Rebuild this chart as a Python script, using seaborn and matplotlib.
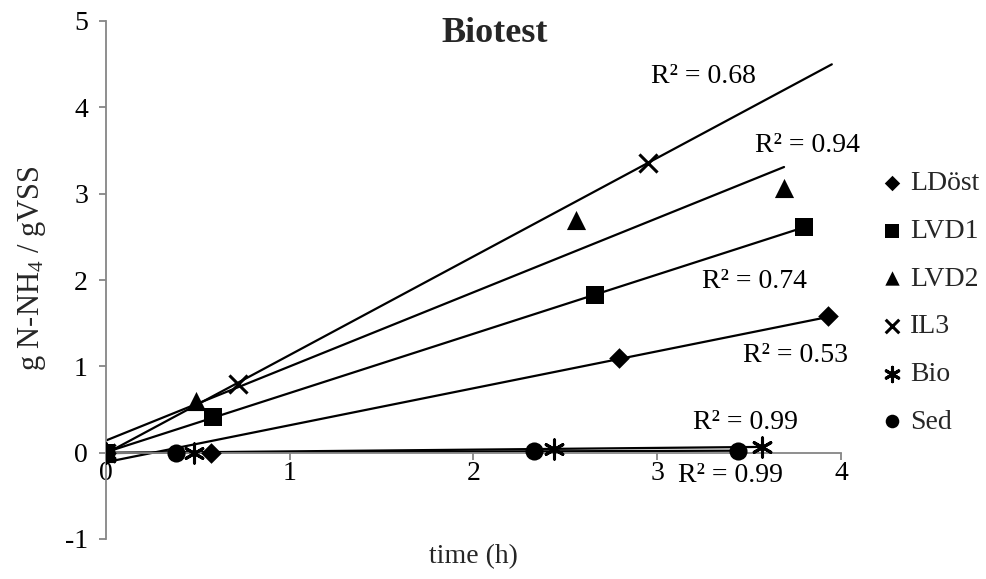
import numpy as np
import pandas as pd
import matplotlib
matplotlib.use("Agg")
import matplotlib.pyplot as plt
import seaborn as sns

# ---- data ----
series = ["LDöst", "LVD1", "LVD2", "IL3", "Bio", "Sed"]
x_ldost = [0.0, 0.57, 2.79, 3.93]
y_ldost = [0.0, 0.0, 1.10, 1.58]
x_lvd1 = [0.0, 0.58, 2.66, 3.80]
y_lvd1 = [0.0, 0.41, 1.83, 2.61]
x_lvd2 = [0.0, 0.49, 2.56, 3.69]
y_lvd2 = [0.0, 0.60, 2.69, 3.06]
x_il3 = [0.0, 0.72, 2.95]
y_il3 = [0.0, 0.80, 3.36]
x_bio = [0.0, 0.48, 2.44, 3.57]
y_bio = [0.0, 0.0, 0.04, 0.07]
x_sed = [0.0, 0.38, 2.33, 3.44]
y_sed = [0.0, 0.0, 0.02, 0.02]
forecast_forward = {"IL3": 1.0}
r2_labels = ["R² = 0.68", "R² = 0.94", "R² = 0.74", "R² = 0.53", "R² = 0.99", "R² = 0.99"]
r2_pos = [(3.25, 4.36), (3.82, 3.56), (3.53, 1.98), (3.75, 1.12), (3.48, 0.35), (3.40, -0.27)]
x_ticks = [0, 1, 2, 3, 4]
y_ticks = [-1, 0, 1, 2, 3, 4, 5]

xs = {"LDöst": x_ldost, "LVD1": x_lvd1, "LVD2": x_lvd2, "IL3": x_il3, "Bio": x_bio, "Sed": x_sed}
ys = {"LDöst": y_ldost, "LVD1": y_lvd1, "LVD2": y_lvd2, "IL3": y_il3, "Bio": y_bio, "Sed": y_sed}

sns.set_theme(style="white")
plt.rcParams["font.family"] = ["Liberation Serif", "DejaVu Serif"]
plt.rcParams["mathtext.fontset"] = "custom"
plt.rcParams["mathtext.rm"] = "Liberation Serif"
plt.rcParams["mathtext.it"] = "Liberation Serif:italic"

fig = plt.figure(figsize=(9.87, 5.79), dpi=100)
ax = fig.add_axes([106 / 987, 1 - 539 / 579, 735 / 987, 518 / 579])

gray = "#868686"
markers = {"LDöst": "D", "LVD1": "s", "LVD2": "^", "IL3": "x", "Bio": (6, 2, 0), "Sed": "o"}
sizes = {"LDöst": 110, "LVD1": 180, "LVD2": 190, "IL3": 170, "Bio": 190, "Sed": 170}

# trend lines
for name in series:
    x = np.array(xs[name]); y = np.array(ys[name])
    k, b = np.polyfit(x, y, 1)
    xe = x.max() + forecast_forward.get(name, 0.0)
    ax.plot([0, xe], [b, b + k * xe], color="black", lw=1.6, zorder=2)

for name in series:
    df = pd.DataFrame({"t": xs[name], "v": ys[name]})
    m = markers[name]
    line_art = m in ("x", (6, 2, 0))
    sns.scatterplot(data=df, x="t", y="v", marker=m, color="black", s=sizes[name],
                    linewidth=2.2 if line_art else 0, edgecolor="black", ax=ax,
                    label=name, zorder=3, legend=False)

for txt, (px, py) in zip(r2_labels, r2_pos):
    ax.text(px, py, txt, fontsize=20, ha="center", va="center", color="black")

ax.set_xlim(0, 4)
ax.set_ylim(-1, 5)
ax.set_xticks(x_ticks)
ax.set_yticks(y_ticks)
ax.set_xticklabels([str(v) for v in x_ticks])
ax.set_yticklabels([str(v) for v in y_ticks])
ax.set_xlabel("")
ax.set_ylabel("")
for s in ["top", "right"]:
    ax.spines[s].set_visible(False)
ax.spines["bottom"].set_position(("data", 0))
for s in ["left", "bottom"]:
    ax.spines[s].set_color(gray)
    ax.spines[s].set_linewidth(1.3)
ax.tick_params(axis="both", direction="out", length=5, width=1.3, color=gray,
               labelsize=20, labelcolor="black")
ax.tick_params(axis="y", pad=8)
ax.tick_params(axis="x", pad=1)
ax.tick_params(left=True, bottom=True)
ax.grid(False)

# legend
hs, ls = ax.get_legend_handles_labels()
ax.legend(hs, ls, loc="upper left", bbox_to_anchor=(882 / 987, 1 - 171 / 579),
          bbox_transform=fig.transFigure, frameon=False, fontsize=20,
          handlelength=0.7, handletextpad=0.3, labelspacing=0.80, borderpad=0,
          borderaxespad=0, markerscale=0.75)

fig.text(495 / 987, 1 - 33 / 579, "Biotest", fontsize=26, fontweight="bold",
         ha="center", va="center")
fig.text(473 / 987, 1 - 557 / 579, "time (h)", fontsize=20, ha="center", va="center")
fig.text(32 / 987, 1 - 268 / 579, r"g N-NH$_\mathregular{4}$ / gVSS", fontsize=22,
         rotation=90, ha="center", va="center")

fig.savefig("out.png", dpi=100)
